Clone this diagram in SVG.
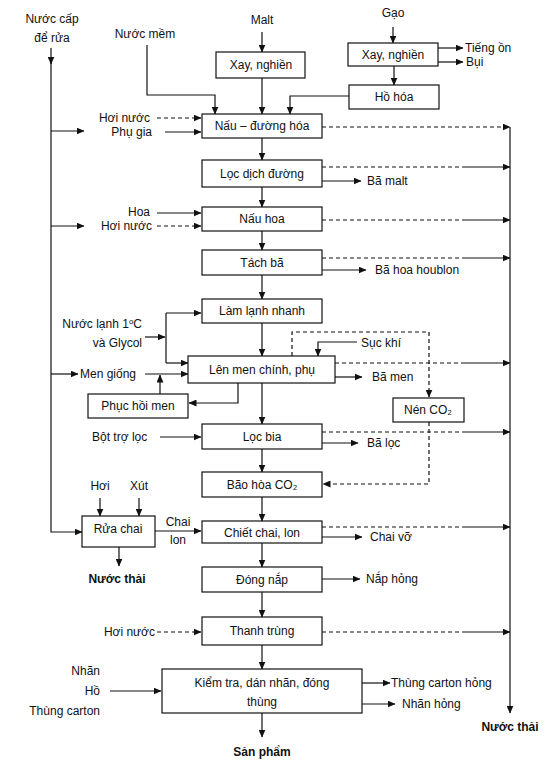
<svg xmlns="http://www.w3.org/2000/svg" width="557" height="770" viewBox="0 0 557 770">
<defs>
<marker id="ah" markerWidth="8" markerHeight="7" refX="7.5" refY="3.5" orient="auto" markerUnits="userSpaceOnUse"><path d="M0,0 L8,3.5 L0,7 z" fill="#111"/></marker>
<style>
text{font-family:"Liberation Sans",Arial,sans-serif;font-size:12px;fill:#111}
.b{font-weight:bold}
.m{text-anchor:middle}
.e{text-anchor:end}
rect{fill:#fff;stroke:#111;stroke-width:1.2}
.c path{fill:none;stroke:#111;stroke-width:1.2}
.c .d{stroke-dasharray:4 3}
.c .a{marker-end:url(#ah)}
</style>
</defs>
<rect x="0" y="0" width="557" height="770" style="fill:#fff;stroke:none"/>
<g class="c" id="connectors">
<path class="a" d="M262,32V52"/>
<path class="a" d="M262,78V114"/>
<path class="a" d="M262,138V160"/>
<path class="a" d="M262,187V207"/>
<path class="a" d="M262,231V250"/>
<path class="a" d="M262,275V299"/>
<path class="a" d="M262,323V356"/>
<path class="a" d="M262,383V424"/>
<path class="a" d="M262,449V472"/>
<path class="a" d="M262,497V521"/>
<path class="a" d="M262,543V567"/>
<path class="a" d="M262,592V617"/>
<path class="a" d="M262,645V669"/>
<path class="a" d="M262,713V737"/>
<path class="a" d="M51,48V64"/>
<path class="a" d="M51,60V532H82"/>
<path class="a" d="M51,131H84"/>
<path class="a" d="M51,226H84"/>
<path class="a" d="M51,374H78"/>
<path class="a" d="M147,45V95H215V114"/>
<path class="a" d="M349,96H290V114"/>
<path class="a" d="M393,27V43"/>
<path class="a" d="M394,66V85"/>
<path class="a" d="M438,48H463"/>
<path class="a" d="M438,62H463"/>
<path class="a d" d="M157,118H201"/>
<path class="a" d="M165,132H201"/>
<path class="a" d="M157,213H201"/>
<path class="a d" d="M157,226H201"/>
<path class="a" d="M145,337H165"/>
<path d="M166,313V363"/>
<path class="a" d="M166,313H201"/>
<path class="a" d="M166,363H188"/>
<path class="a" d="M145,374H188"/>
<path class="a" d="M160,394V375"/>
<path class="a" d="M238,383V403H189"/>
<path class="a" d="M357,342H318V356"/>
<path class="a d" d="M292,356V332H429V397"/>
<path class="a d" d="M429,422V484H323"/>
<path class="a" d="M160,437H201"/>
<path class="a" d="M100,498V516"/>
<path class="a" d="M139,498V516"/>
<path class="a" d="M155,531H201"/>
<path class="a" d="M119,547V566"/>
<path class="a d" d="M157,632H201"/>
<path class="a" d="M110,691H161"/>
<path class="a" d="M362,683H390"/>
<path class="a" d="M362,704H395"/>
<path class="a" d="M322,181H361"/>
<path class="a" d="M322,270H366"/>
<path class="a" d="M335,377H362"/>
<path class="a" d="M322,443H358"/>
<path class="a" d="M322,537H362"/>
<path class="a" d="M322,579H360"/>
<path class="a d" d="M322,127H510"/>
<path class="d" d="M322,167H465"/><path class="a" d="M465,167H510"/>
<path class="d" d="M322,220H465"/><path class="a" d="M465,220H510"/>
<path class="d" d="M322,258H465"/><path class="a" d="M465,258H510"/>
<path class="d" d="M335,363H465"/><path class="a" d="M465,363H510"/>
<path class="d" d="M322,432H465"/><path class="a" d="M465,432H510"/>
<path class="d" d="M322,527H465"/><path class="a" d="M465,527H510"/>
<path class="d" d="M322,632H465"/><path class="a" d="M465,632H510"/>
<path class="a" d="M510,127V713"/>
</g>
<g id="xay1"><rect x="216" y="52" width="89" height="26"/><text class="m" x="261" y="69">Xay, nghiền</text></g>
<g id="xay2"><rect x="348" y="43" width="90" height="23"/><text class="m" x="393" y="59">Xay, nghiền</text></g>
<g id="hohoa"><rect x="349" y="85" width="90" height="24"/><text class="m" x="394" y="101">Hồ hóa</text></g>
<g id="nau"><rect x="202" y="114" width="120" height="24"/><text class="m" x="262" y="130">Nấu – đường hóa</text></g>
<g id="locdich"><rect x="202" y="160" width="120" height="27"/><text class="m" x="262" y="178">Lọc dịch đường</text></g>
<g id="nauhoa"><rect x="202" y="207" width="120" height="24"/><text class="m" x="262" y="223">Nấu hoa</text></g>
<g id="tachba"><rect x="202" y="250" width="120" height="25"/><text class="m" x="262" y="267">Tách bã</text></g>
<g id="lamlanh"><rect x="202" y="299" width="120" height="24"/><text class="m" x="262" y="315">Làm lạnh nhanh</text></g>
<g id="lenmen"><rect x="188" y="356" width="147" height="27"/><text class="m" x="262" y="374">Lên men chính, phụ</text></g>
<g id="phuchoi"><rect x="88" y="394" width="100" height="24"/><text class="m" x="138" y="410">Phục hồi men</text></g>
<g id="nenco2"><rect x="393" y="398" width="71" height="24"/><text class="m" x="428" y="414">Nén CO₂</text></g>
<g id="locbia"><rect x="202" y="424" width="120" height="25"/><text class="m" x="262" y="441">Lọc bia</text></g>
<g id="baohoa"><rect x="202" y="472" width="120" height="25"/><text class="m" x="262" y="489">Bão hòa CO₂</text></g>
<g id="ruachai"><rect x="82" y="516" width="73" height="31"/><text class="m" x="118" y="533">Rửa chai</text></g>
<g id="chiet"><rect x="202" y="521" width="120" height="22"/><text class="m" x="262" y="537">Chiết chai, lon</text></g>
<g id="dongnap"><rect x="202" y="567" width="120" height="25"/><text class="m" x="262" y="584">Đóng nắp</text></g>
<g id="thanhtrung"><rect x="202" y="617" width="120" height="28"/><text class="m" x="262" y="635">Thanh trùng</text></g>
<g id="kiemtra"><rect x="162" y="669" width="200" height="44"/><text class="m" x="262" y="687">Kiểm tra, dán nhãn, đóng</text><text class="m" x="262" y="706">thùng</text></g>
<g id="labels">
<text class="m" x="52" y="23">Nước cấp</text>
<text class="m" x="52" y="42">để rửa</text>
<text class="m" x="145" y="38">Nước mềm</text>
<text class="m" x="262" y="24">Malt</text>
<text class="m" x="393" y="17">Gạo</text>
<text x="465" y="52">Tiếng ồn</text>
<text x="466" y="66">Bụi</text>
<text class="e" x="150" y="122">Hơi nước</text>
<text class="e" x="152" y="136">Phụ gia</text>
<text x="367" y="185">Bã malt</text>
<text class="e" x="150" y="216">Hoa</text>
<text class="e" x="152" y="230">Hơi nước</text>
<text x="375" y="274">Bã hoa houblon</text>
<text class="e" x="142" y="328">Nước lạnh 1<tspan font-size="8" dy="-4">o</tspan><tspan dy="4">C</tspan></text>
<text class="e" x="142" y="347">và Glycol</text>
<text x="361" y="347">Sục khí</text>
<text x="80" y="378">Men giống</text>
<text x="372" y="381">Bã men</text>
<text x="92" y="441">Bột trợ lọc</text>
<text x="367" y="447">Bã lọc</text>
<text class="m" x="100" y="490">Hơi</text>
<text class="m" x="139" y="490">Xút</text>
<text class="m" x="178" y="526">Chai</text>
<text class="m" x="178" y="544">lon</text>
<text class="m b" x="117" y="583">Nước thải</text>
<text x="370" y="541">Chai vỡ</text>
<text x="366" y="583">Nắp hỏng</text>
<text class="e" x="155" y="636">Hơi nước</text>
<text class="e" x="100" y="675">Nhãn</text>
<text class="e" x="100" y="695">Hồ</text>
<text class="e" x="100" y="715">Thùng carton</text>
<text x="391" y="687">Thùng carton hỏng</text>
<text x="402" y="708">Nhãn hỏng</text>
<text class="m b" x="510" y="731">Nước thải</text>
<text class="m b" x="262" y="756">Sản phẩm</text>
</g>
</svg>
